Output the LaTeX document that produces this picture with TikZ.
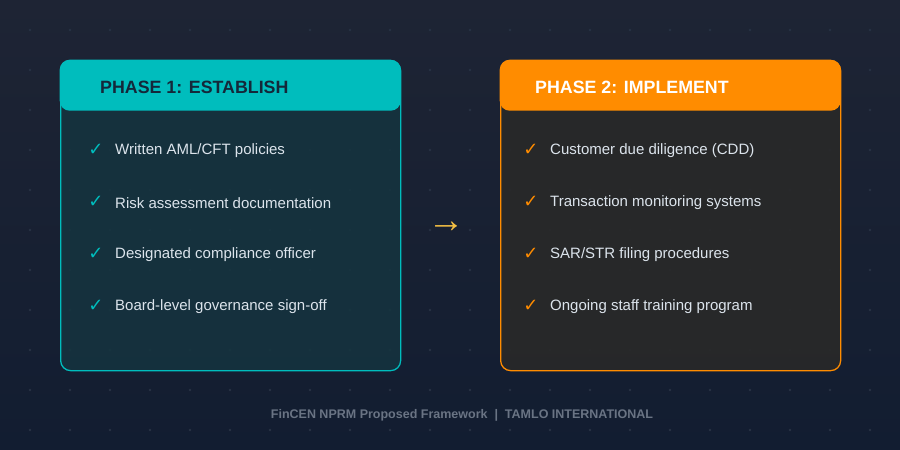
\documentclass[tikz,border=0pt]{standalone}
\usepackage{fontspec}
\setmainfont{Liberation Sans}
\newfontfamily\symfont{DejaVu Sans}
\definecolor{bgtop}{HTML}{1E2434}
\definecolor{bgbot}{HTML}{121D31}
\definecolor{griddot}{HTML}{283244}
\definecolor{teal}{HTML}{00BDBD}
\definecolor{tealbody}{HTML}{15343F}
\definecolor{orng}{HTML}{FF8C00}
\definecolor{orngbody}{HTML}{292929}
\definecolor{itemtext}{HTML}{DCE4EC}
\definecolor{headdark}{HTML}{14283A}
\definecolor{gold}{HTML}{F5C044}
\definecolor{foot}{HTML}{6A7484}
\tikzset{
  itemlabel/.style={anchor=west, text=itemtext, font=\fontsize{15}{17}\selectfont, inner sep=0pt},
  checkmark/.style={anchor=center, font=\symfont\fontsize{18}{20}\selectfont, inner sep=0pt},
  headlabel/.style={anchor=west, font=\bfseries\fontsize{17.8}{20}\selectfont, inner sep=0pt},
}
\begin{document}
\begin{tikzpicture}[x=1pt,y=-1pt]
\useasboundingbox (0,0) rectangle (900,450);
\shade[top color=bgtop, bottom color=bgbot] (0,0) rectangle (900,450);
% dot grid
\foreach \i in {0,...,21}{
  \foreach \j in {0,...,10}{
    \fill[griddot] (30+40*\i,30+40*\j) circle (1.4);
  }
}
% Panel 1
\node[draw=teal, line width=1.3pt, fill=tealbody, fill opacity=0.85, rounded corners=10pt, minimum width=340pt, minimum height=310pt, anchor=north west, inner sep=0pt] (p1) at (60,60) {};
\node[fill=teal, rounded corners=10pt, minimum width=341pt, minimum height=51pt, anchor=north west, inner sep=0pt] (h1) at (59.5,59.5) {};
\node[headlabel, text=headdark] (h1t) at (100,87) {PHASE 1: ESTABLISH};
% Panel 2
\node[draw=orng, line width=1.3pt, fill=orngbody, fill opacity=0.9, rounded corners=10pt, minimum width=340pt, minimum height=310pt, anchor=north west, inner sep=0pt] (p2) at (500,60) {};
\node[fill=orng, rounded corners=10pt, minimum width=341pt, minimum height=51pt, anchor=north west, inner sep=0pt] (h2) at (499.5,59.5) {};
\node[headlabel, text=white] (h2t) at (535,87) {PHASE 2: IMPLEMENT};
% items panel 1
\foreach \t [count=\k] in {Written AML/CFT policies, Risk assessment documentation, Designated compliance officer, Board-level governance sign-off}{
  \node[checkmark, text=teal] (c1\k) at (96,150+52*\k-52) {✓};
  \node[itemlabel] (t1\k) at (115,151+52*\k-52) {\t};
}
\foreach \t [count=\k] in {Customer due diligence (CDD), Transaction monitoring systems, SAR/STR filing procedures, Ongoing staff training program}{
  \node[checkmark, text=orng] (c2\k) at (531,150+52*\k-52) {✓};
  \node[itemlabel] (t2\k) at (550,151+52*\k-52) {\t};
}
% arrow
\node[text=gold, font=\fontsize{37}{40}\selectfont, inner sep=0pt] (arr) at (446,227) {→};
% footer
\node[text=foot, font=\bfseries\fontsize{12.5}{14}\selectfont, inner sep=0pt] (footer) at (462,415) {FinCEN NPRM Proposed Framework\ \ |\ \ TAMLO INTERNATIONAL};
\end{tikzpicture}
\end{document}
